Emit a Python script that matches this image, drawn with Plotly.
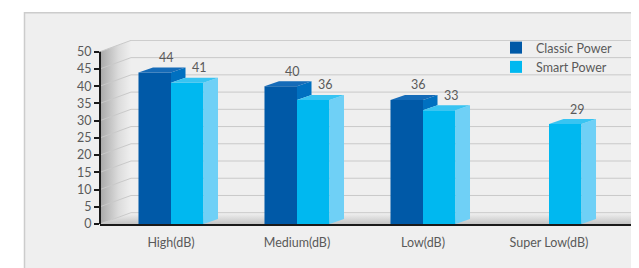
import plotly.graph_objects as go

# ---- data ----
categories = ["High(dB)", "Medium(dB)", "Low(dB)", "Super Low(dB)"]
classic_power = [44, 40, 36, None]
smart_power = [41, 36, 33, 29]
y_ticks = [0, 5, 10, 15, 20, 25, 30, 35, 40, 45, 50]

# ---- styling / geometry (pixel-derived; page body has an 8px margin) ----
W, H = 631, 260
ML, MR, MT, MB = 92, 4, 32, 44
PX_X = 126.0                     # px per category
PX_Y = 3.446                     # px per unit
X_MIN = (100 - 171) / PX_X
X_MAX = X_MIN + (W - ML - MR) / PX_X
Y_MAX = (H - MT - MB) / PX_Y
PW, PH = W - ML - MR, H - MT - MB

WALL_DX = 31 / PX_X
WALL_DY = 11.3 / PX_Y
BAR_DX = 14.5 / PX_X
BAR_DY = 5 / PX_Y
BARGAP = 0.484
BW = (1 - BARGAP) / 2

C_FRONT, C_TOP, C_SIDE = "#0059a7", "#156bb8", "#0070c0"
S_FRONT, S_TOP, S_SIDE = "#00b8f0", "#38c4f2", "#6fd0f6"
TXT = "#5a5a5a"
FONT = "Lato"

fig = go.Figure()

# ---- back box (main axes, drawn beneath overlay) ----
fig.add_trace(go.Scatter(
    x=[X_MIN, X_MIN, X_MIN + WALL_DX, X_MIN + WALL_DX, X_MIN],
    y=[0, y_ticks[-1], y_ticks[-1] + WALL_DY, WALL_DY, 0],
    fill="toself", mode="lines", line=dict(width=0),
    fillgradient=dict(type="horizontal",
                      colorscale=[[0, "#a8a8a8"], [0.6, "#dcdcdc"], [1, "#efefef"]]),
    hoverinfo="skip", showlegend=False))
fig.add_trace(go.Scatter(
    x=[X_MIN, X_MIN + WALL_DX, X_MAX - 0.02, X_MAX, X_MIN],
    y=[0, WALL_DY, WALL_DY, 0, 0],
    fill="toself", mode="lines", line=dict(width=0),
    fillgradient=dict(type="vertical",
                      colorscale=[[0, "#c4c4c4"], [1, "#f2f2f2"]]),
    hoverinfo="skip", showlegend=False))
gx, gy = [], []
for t in y_ticks:
    gx += [X_MIN, X_MIN + WALL_DX, X_MAX, None]
    gy += [t, t + WALL_DY, t + WALL_DY, None]
fig.add_trace(go.Scatter(x=gx, y=gy, mode="lines",
                         line=dict(color="#c9c9c9", width=1),
                         hoverinfo="skip", showlegend=False))

# ---- bars (overlay axes) ----
xs = list(range(len(categories)))
fig.add_trace(go.Bar(x=xs, y=classic_power, name="Classic Power",
                     marker=dict(color=C_FRONT, line=dict(width=0)),
                     xaxis="x2", yaxis="y2"))
fig.add_trace(go.Bar(x=xs, y=smart_power, name="Smart Power",
                     marker=dict(color=S_FRONT, line=dict(width=0)),
                     xaxis="x2", yaxis="y2"))

ctx, cty, csx, csy = [], [], [], []
stx, sty, ssx, ssy = [], [], [], []
for i, (c, s) in enumerate(zip(classic_power, smart_power)):
    if c is not None:
        x0, x1 = i - BW, i
        ctx += [x0, x0 + BAR_DX, x1 + BAR_DX, x1, x0, None]
        cty += [c, c + BAR_DY, c + BAR_DY, c, c, None]
        lo = s if s is not None else 0
        csx += [x1, x1, x1 + BAR_DX, x1 + BAR_DX, x1, None]
        csy += [lo, c, c + BAR_DY, lo + BAR_DY, lo, None]
    if s is not None:
        x0, x1 = i, i + BW
        stx += [x0, x0 + BAR_DX, x1 + BAR_DX, x1, x0, None]
        sty += [s, s + BAR_DY, s + BAR_DY, s, s, None]
        ssx += [x1, x1, x1 + BAR_DX, x1 + BAR_DX, x1, None]
        ssy += [0, s, s + BAR_DY, BAR_DY, 0, None]

for px_, py_, col in [(csx, csy, C_SIDE), (ctx, cty, C_TOP),
                      (ssx, ssy, S_SIDE), (stx, sty, S_TOP)]:
    fig.add_trace(go.Scatter(x=px_, y=py_, fill="toself", mode="lines",
                             fillcolor=col, line=dict(width=0),
                             hoverinfo="skip", showlegend=False,
                             xaxis="x2", yaxis="y2"))

# ---- value labels ----
for i, (c, s) in enumerate(zip(classic_power, smart_power)):
    for v, xc in [(c, i - BW / 2), (s, i + BW / 2)]:
        if v is None:
            continue
        fig.add_annotation(x=xc, y=v + BAR_DY, text=str(v), showarrow=False,
                           xref="x", yref="y", xshift=12, yshift=10,
                           font=dict(family=FONT, size=12.5, color=TXT))

# ---- panel + y axis line ----
fig.add_shape(type="rect", xref="paper", yref="paper",
              x0=(16.5 - ML) / PW, x1=1.3,
              y0=-0.6, y1=(H - MB - 4.7) / PH,
              fillcolor="#efefef", line=dict(color="#cccccc", width=1.5),
              layer="below")
fig.add_shape(type="line", xref="paper", yref="y", x0=0, x1=0,
              y0=y_ticks[0], y1=y_ticks[-1],
              line=dict(color="#1a1a1a", width=2), layer="above")

fig.update_layout(
    width=W, height=H,
    margin=dict(l=ML, r=MR, t=MT, b=MB),
    paper_bgcolor="white", plot_bgcolor="rgba(0,0,0,0)",
    barmode="group", bargap=BARGAP, bargroupgap=0,
    font=dict(family=FONT, size=12.5, color=TXT),
    xaxis=dict(range=[X_MIN, X_MAX], tickvals=xs, ticktext=categories,
               showgrid=False, zeroline=False, showline=True,
               linecolor="#1a1a1a", linewidth=2, ticks="",
               tickfont=dict(size=12.5, color=TXT), ticklabelstandoff=6),
    yaxis=dict(range=[0, Y_MAX], tickvals=y_ticks, showgrid=False,
               zeroline=False, showline=False, ticks="outside",
               ticklen=5, tickwidth=2, tickcolor="#1a1a1a",
               tickfont=dict(size=12.5, color=TXT)),
    xaxis2=dict(range=[X_MIN, X_MAX], overlaying="x", visible=False),
    yaxis2=dict(range=[0, Y_MAX], overlaying="y", visible=False),
    legend=dict(x=(488 - ML) / PW, y=(PH + 7) / PH,
                xanchor="left", yanchor="top", bgcolor="rgba(0,0,0,0)",
                font=dict(size=12.5, color=TXT), tracegroupgap=0),
)

fig.write_html("out.html")
